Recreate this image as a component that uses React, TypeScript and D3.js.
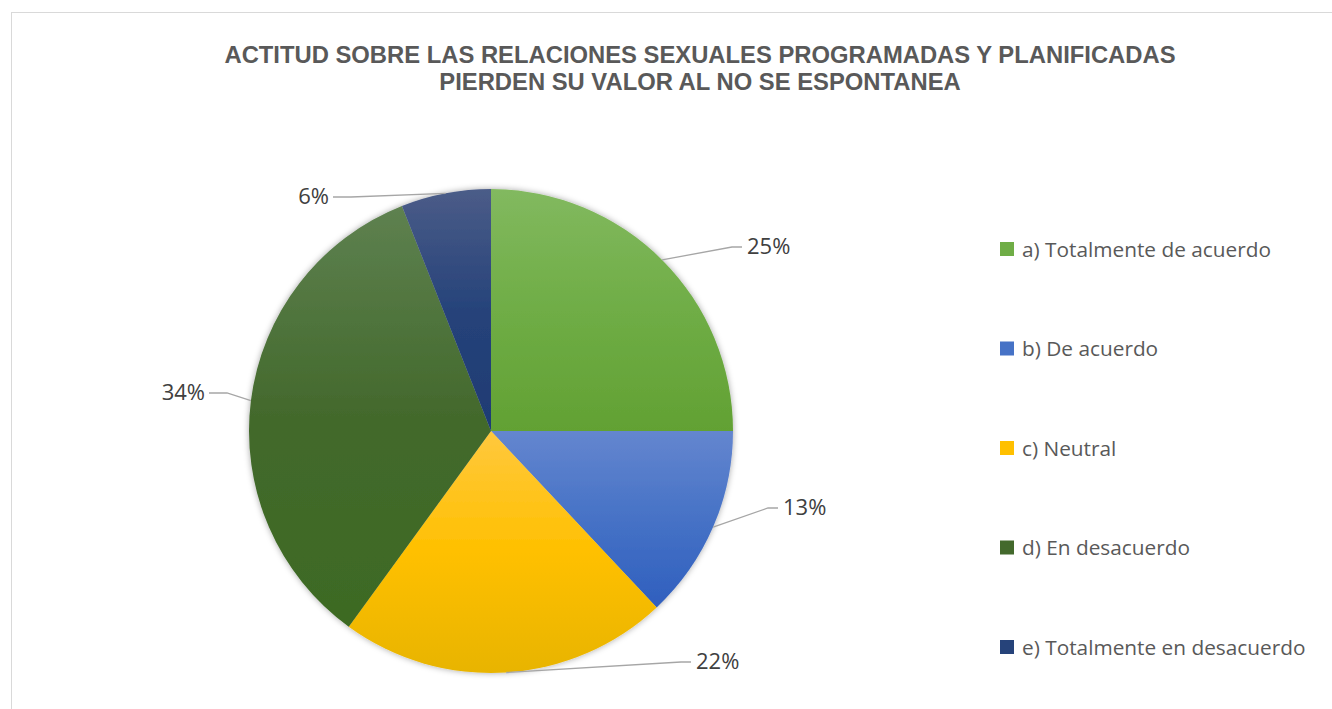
import React from "react";
import * as d3 from "d3";

const categories = [
  "a) Totalmente de acuerdo",
  "b) De acuerdo",
  "c) Neutral",
  "d) En desacuerdo",
  "e) Totalmente en desacuerdo",
];
const values = [25, 13, 22, 34, 6];
const titleLines = [
  "ACTITUD SOBRE LAS RELACIONES SEXUALES PROGRAMADAS Y PLANIFICADAS",
  "PIERDEN SU VALOR AL NO SE ESPONTANEA",
];

// styling (top, mid, bottom gradient stops)
const gradients = [
  ["#82b95f", "#6fad46", "#62a133"],
  ["#6486cf", "#4672c6", "#2f5fbe"],
  ["#ffc83e", "#ffc000", "#e8b400"],
  ["#5e8150", "#43692c", "#3d6a23"],
  ["#4b5c88", "#26437a", "#1e3b73"],
];
// label text placement: [x, baselineY, anchor]
const labelPos: [number, number, "start" | "end"][] = [
  [747, 254, "start"],
  [783, 515, "start"],
  [696, 669, "start"],
  [205, 400, "end"],
  [329, 204, "end"],
];

export default function App() {
  const W = 1332;
  const H = 709;
  const cx = 491;
  const cy = 431;
  const r = 242;

  const pie = d3.pie<number>().sort(null).value((d) => d);
  const arcs = pie(values);
  const arc = d3.arc<d3.PieArcDatum<number>>().innerRadius(0).outerRadius(r);

  const legendX = 1000;
  const legendY0 = 249;
  const legendStep = 99.5;

  return (
    <svg
      width={W}
      height={H}
      style={{ position: "absolute", left: 0, top: 0, background: "#fff" }}
    >
      <defs>
        {gradients.map((g, i) => (
          <linearGradient key={i} id={`g${i}`} x1="0" y1="0" x2="0" y2="1">
            <stop offset="0%" stopColor={g[0]} />
            <stop offset="50%" stopColor={g[1]} />
            <stop offset="100%" stopColor={g[2]} />
          </linearGradient>
        ))}
        <filter id="shadow" x="-10%" y="-10%" width="120%" height="120%">
          <feDropShadow dx="0" dy="0" stdDeviation="3" floodColor="#000" floodOpacity="0.35" />
        </filter>
      </defs>
      <rect x={11.5} y={12.5} width={1340} height={720} fill="#fff" stroke="#d9d9d9" strokeWidth={1} />
      <g fontFamily="'Liberation Sans', Arial, sans-serif" fontWeight="bold" fontSize={23.8} fill="#595959" textAnchor="middle">
        {titleLines.map((t, i) => (
          <text key={i} x={700} y={63 + i * 26.5}>
            {t}
          </text>
        ))}
      </g>
      <g transform={`translate(${cx},${cy})`} filter="url(#shadow)">
        {arcs.map((a, i) => (
          <path key={i} d={arc(a) || ""} fill={`url(#g${i})`} />
        ))}
      </g>
      <g>
        {arcs.map((a, i) => {
          const mid = (a.startAngle + a.endAngle) / 2;
          const ex = cx + r * Math.sin(mid);
          const ey = cy - r * Math.cos(mid);
          const [lx, ly, anchor] = labelPos[i];
          const ymid = ly - 7;
          const attachX = anchor === "start" ? lx - 5 : lx + 4;
          const elbowX = anchor === "start" ? attachX - 10 : attachX + 18;
          return (
            <g key={i}>
              <polyline
                points={`${ex},${ey} ${elbowX},${ymid} ${attachX},${ymid}`}
                fill="none"
                stroke="#a6a6a6"
                strokeWidth={1.3}
              />
              <text
                x={lx}
                y={ly}
                textAnchor={anchor}
                fontFamily="'Open Sans', 'Noto Sans', sans-serif"
                fontSize={22}
                fill="#404040"
              >
                {`${values[i]}%`}
              </text>
            </g>
          );
        })}
      </g>
      <g>
        {categories.map((c, i) => {
          const y = legendY0 + i * legendStep;
          return (
            <g key={i}>
              <rect x={legendX} y={y - 7} width={14} height={14} fill={gradients[i][1]} />
              <text
                x={legendX + 22}
                y={y + 7.5}
                fontFamily="'Open Sans', 'Noto Sans', sans-serif"
                fontSize={20.8}
                fill="#595959"
              >
                {c}
              </text>
            </g>
          );
        })}
      </g>
    </svg>
  );
}
